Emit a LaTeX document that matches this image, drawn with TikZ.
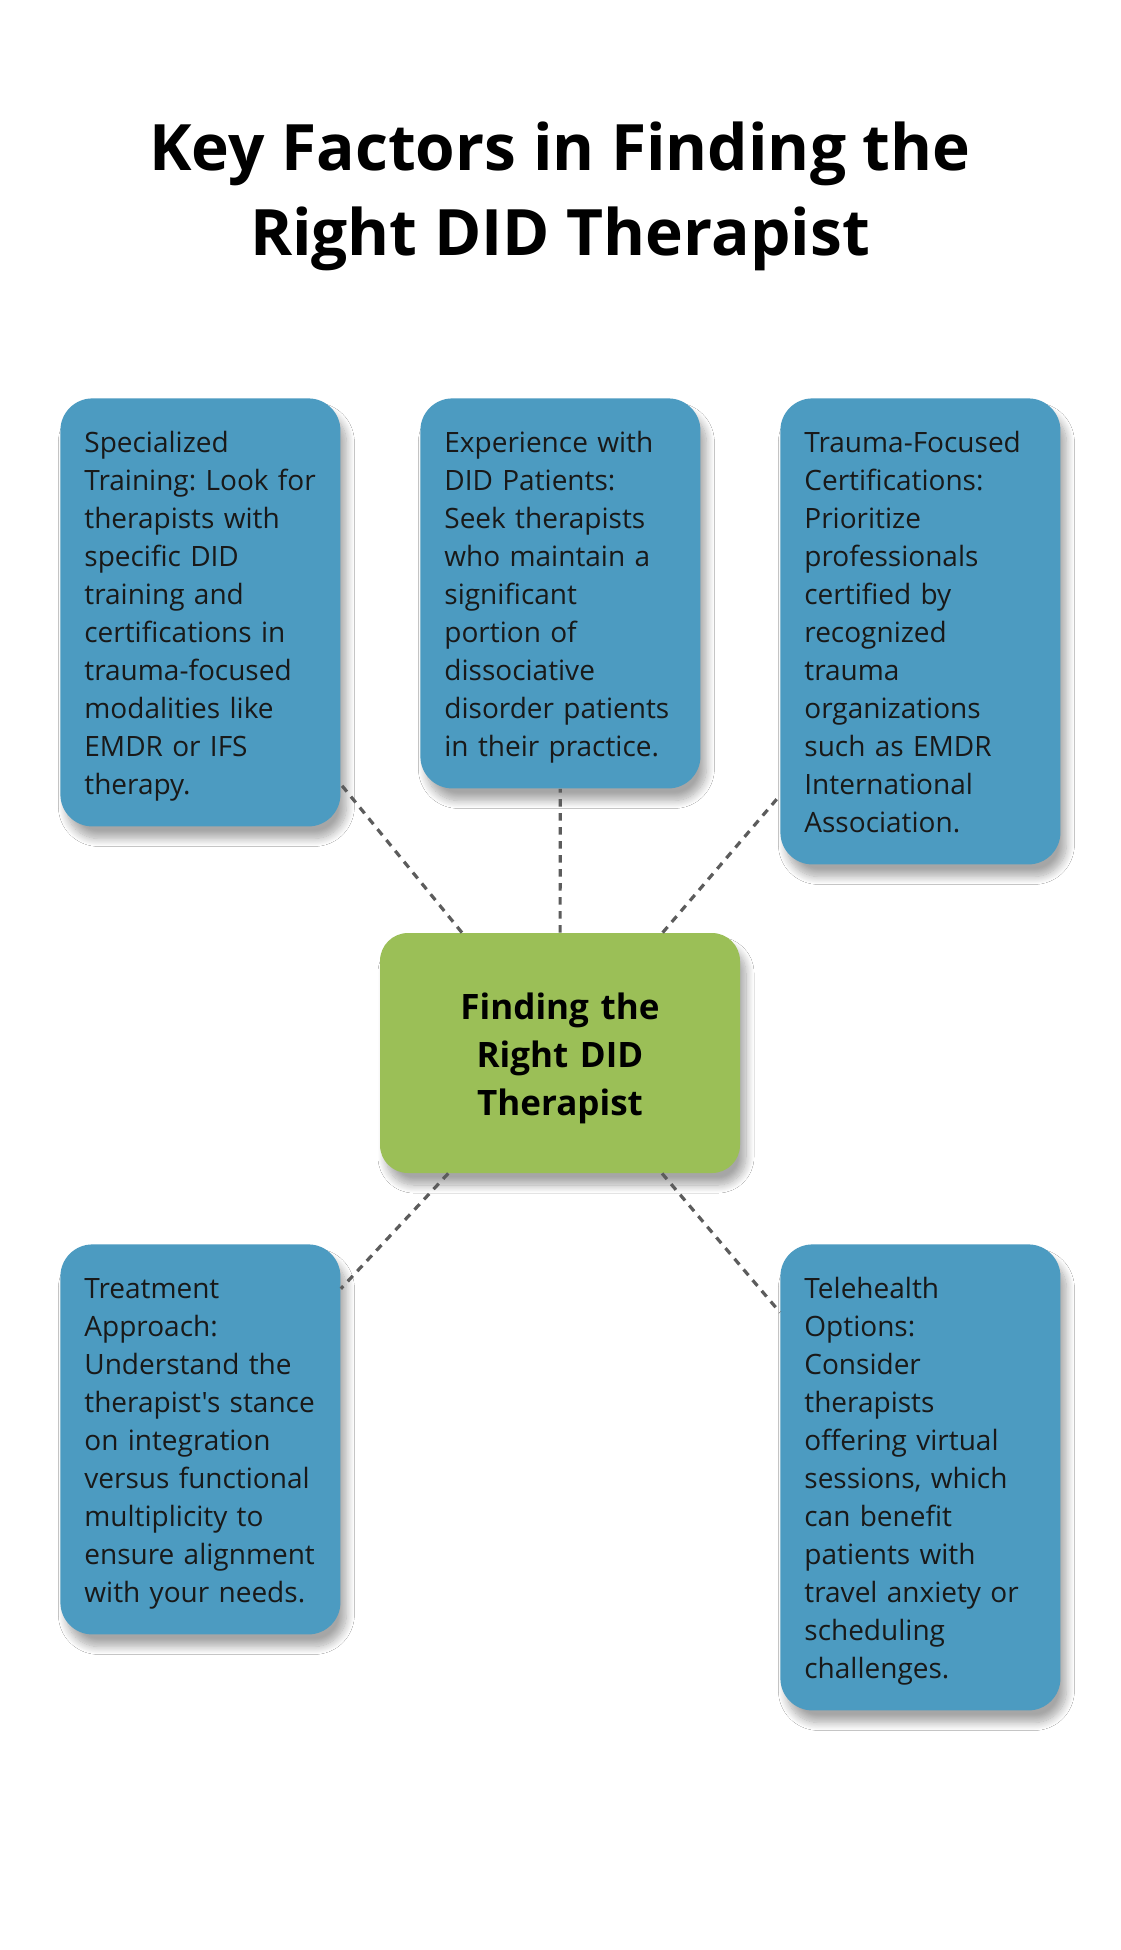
\documentclass[tikz,border=0pt]{standalone}
\usepackage{fontspec}
\setmainfont{Open Sans}[Ligatures=TeXOff]
\usepackage{xcolor}
\usepackage{tikz}
\usetikzlibrary{shadows,shadows.blur}
\definecolor{factorblue}{HTML}{4C9BC1}
\definecolor{findgreen}{HTML}{9BBF57}
\definecolor{linkgray}{HTML}{5C5C5C}
\newcommand{\lstrut}{\rule[-4pt]{0pt}{19pt}}
\newcommand{\cstrut}{\rule[-5pt]{0pt}{24pt}}
\newcommand{\tstrut}{\rule[-9pt]{0pt}{42.5pt}}
\tikzset{
  soft shadow/.style={blur shadow={shadow xshift=3pt, shadow yshift=-6pt,
    shadow blur radius=4pt, shadow blur steps=12, shadow opacity=35}},
  factor/.style={fill=factorblue, rounded corners=16pt, anchor=north west,
    text width=116pt, inner xsep=12pt, inner ysep=12pt, align=left,
    font=\fontsize{14pt}{19pt}\selectfont\frenchspacing, text=black!90,
    soft shadow, execute at begin node=\lstrut, execute at end node=\lstrut},
  finding/.style={fill=findgreen, rounded corners=14pt, minimum width=180pt,
    minimum height=120pt, text width=150pt, align=center,
    font=\bfseries\fontsize{17.5pt}{24pt}\selectfont, text=black,
    soft shadow, execute at begin node=\cstrut, execute at end node=\cstrut},
  link/.style={draw=linkgray, line width=1.6pt, dash pattern=on 3.75pt off 3.25pt}
}
\begin{document}
\begin{tikzpicture}[x=0.5pt,y=-0.5pt]
      \fill[white] (0,0) rectangle (1120,1950);
      \useasboundingbox (0,0) rectangle (1120,1950);
        \node at (560,103) [anchor=north, align=center, inner sep=0pt,
          font=\bfseries\fontsize{32pt}{42.5pt}\selectfont] (title)
        {
          \tstrut Key Factors in Finding the\\
          Right DID Therapist
        };
        \node at (60,398) [factor] (training)
        {
          Specialized\\ Training: Look for\\ therapists with\\ specific DID\\
          training and\\ certifications in\\ trauma-focused\\ modalities like\\
          EMDR or IFS\\ therapy.
        };
        \node at (420,398) [factor] (experience)
        {
          Experience with\\ DID Patients:\\ Seek therapists\\ who maintain a\\
          significant\\ portion of\\ dissociative\\ disorder patients\\
          in their practice.
        };
        \node at (780,398) [factor] (certs)
        {
          Trauma-Focused\\ Certifications:\\ Prioritize\\ professionals\\
          certified by\\ recognized\\ trauma\\ organizations\\ such as EMDR\\
          International\\ Association.
        };
        \node at (560,1053) [finding] (finding)
        {
          Finding the\\ Right DID\\ Therapist
        };
        \node at (60,1244) [factor] (approach)
        {
          Treatment\\ Approach:\\ Understand the\\ therapist's stance\\
          on integration\\ versus functional\\ multiplicity to\\
          ensure alignment\\ with your needs.
        };
        \node at (780,1244) [factor] (telehealth)
        {
          Telehealth\\ Options:\\ Consider\\ therapists\\ offering virtual\\
          sessions, which\\ can benefit\\ patients with\\ travel anxiety or\\
          scheduling\\ challenges.
        };
        % dotted spokes from the centre box
        \draw[link] (finding) -- (training);
        \draw[link] (finding) -- (experience);
        \draw[link] (finding) -- (certs);
        \draw[link] (finding) -- (approach);
        \draw[link] (finding) -- (telehealth);
      \end{tikzpicture}
\end{document}
